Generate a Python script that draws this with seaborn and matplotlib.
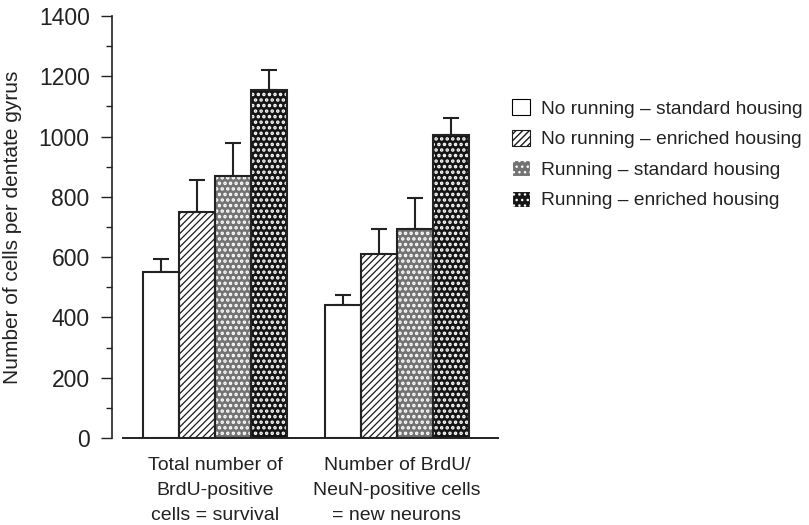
import matplotlib
matplotlib.use("Agg")
import matplotlib.pyplot as plt
import seaborn as sns
import pandas as pd
from matplotlib.patches import Rectangle, Patch
from matplotlib.ticker import MultipleLocator

categories = ["Total number of\nBrdU-positive\ncells = survival",
              "Number of BrdU/\nNeuN-positive cells\n= new neurons"]
groups = ["No running – standard housing",
          "No running – enriched housing",
          "Running – standard housing",
          "Running – enriched housing"]
means = {
    groups[0]: [550, 440],
    groups[1]: [750, 610],
    groups[2]: [870, 695],
    groups[3]: [1155, 1005],
}
errors = {
    groups[0]: [45, 35],
    groups[1]: [105, 85],
    groups[2]: [110, 100],
    groups[3]: [65, 55],
}
y_ticks = [0, 200, 400, 600, 800, 1000, 1200, 1400]

rows = []
for g in groups:
    for c, v, e in zip(categories, means[g], errors[g]):
        rows.append({"category": c, "group": g, "value": v, "err": e})
df = pd.DataFrame(rows)

sns.set_theme(style="ticks")
plt.rcParams["font.family"] = ["Liberation Sans", "DejaVu Sans"]
plt.rcParams["hatch.linewidth"] = 1.0

styles = {
    groups[0]: dict(face="white", hatch=None, hcol="black", hlw=1.0),
    groups[1]: dict(face="white", hatch="/////", hcol="#1a1a1a", hlw=0.9),
    groups[2]: dict(face="#737373", hatch="...", hcol="white", hlw=1.7),
    groups[3]: dict(face="#151515", hatch="...", hcol="white", hlw=1.7),
}


def style_patch(p, st):
    p.set_facecolor(st["face"])
    if st["hatch"]:
        p.set_hatch(st["hatch"])
        p.set_edgecolor(st["hcol"])
        if hasattr(p, "set_hatch_linewidth"):
            p.set_hatch_linewidth(st["hlw"])
    else:
        p.set_edgecolor("black")


fig = plt.figure(figsize=(8.09, 5.25), dpi=100)
ax = fig.add_axes([123 / 809, 1 - 438 / 525, (498 - 123) / 809, (438 - 16) / 525])

sns.barplot(data=df, x="category", y="value", hue="group", order=categories,
            hue_order=groups, errorbar=None, width=0.79, legend=False,
            palette=["white"] * 4, ax=ax)

bars = [p for p in ax.patches if isinstance(p, Rectangle)]
n_cat = len(categories)
for gi, g in enumerate(groups):
    st = styles[g]
    gb = bars[gi * n_cat:(gi + 1) * n_cat]
    for ci, p in enumerate(gb):
        style_patch(p, st)
        p.set_linewidth(0)
        outline = Rectangle(p.get_xy(), p.get_width(), p.get_height(), fill=False,
                            edgecolor="#222222", linewidth=1.5, zorder=p.get_zorder() + 0.1)
        ax.add_patch(outline)
        xc = p.get_x() + p.get_width() / 2
        ax.errorbar([xc], [means[g][ci]], yerr=[[0], [errors[g][ci]]], fmt="none",
                    ecolor="#222222", elinewidth=1.5, capsize=5.5, capthick=1.5,
                    zorder=p.get_zorder() - 0.5)

ax.set_xlim(-0.505, 1.555)
ax.set_ylim(0, 1400)
ax.set_yticks(y_ticks)
ax.yaxis.set_minor_locator(MultipleLocator(100))
ax.tick_params(axis="y", which="major", length=8, width=1, labelsize=16.5, color="#222222",
               labelcolor="#222222", pad=8)
ax.tick_params(axis="y", which="minor", length=4, width=1, color="#222222")
ax.tick_params(axis="x", length=0, labelsize=14, labelcolor="#222222", pad=14)
ax.set_xlabel("")
ax.set_ylabel("Number of cells per dentate gyrus", fontsize=15, color="#222222", labelpad=12)
for lab in ax.get_xticklabels():
    lab.set_linespacing(1.6)

sns.despine(ax=ax)
ax.spines["left"].set_position(("outward", 8))
ax.spines["left"].set_color("#222222")
ax.spines["bottom"].set_color("#222222")
ax.spines["left"].set_linewidth(1.2)
ax.spines["bottom"].set_linewidth(1.4)

handles = []
for g in groups:
    st = styles[g]
    h = Patch(linewidth=0.8)
    style_patch(h, st)
    handles.append(h)
fig.legend(handles, groups, loc="upper left", bbox_to_anchor=(495 / 809, 1 - 82 / 525),
           frameon=False, fontsize=13.8, handlelength=0.9, handleheight=0.9,
           handletextpad=0.6, labelspacing=0.62, labelcolor="#222222")

fig.savefig("out.png", dpi=100)
